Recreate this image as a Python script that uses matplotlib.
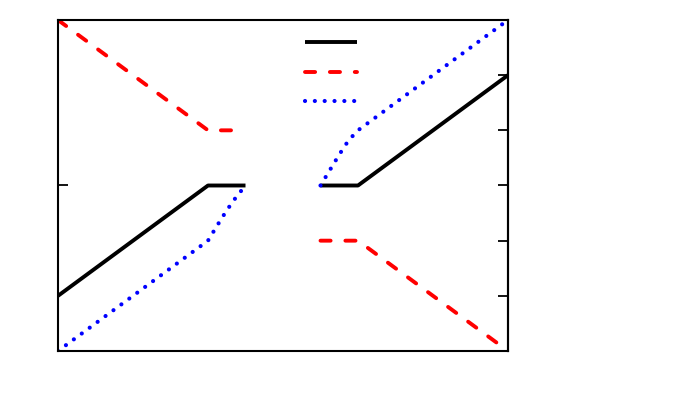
import matplotlib
matplotlib.use("Agg")
import matplotlib.pyplot as plt

# dados
x_esq = [-6, -2, -1]
x_dir = [1, 2, 6]
preto_esq = [-2, 0, 0]
preto_dir = [0, 0, 2]
verm_esq = [3, 1, 1]
verm_dir = [-1, -1, -3]
x_azul_esq = [-6, -2, -1.75, -1.5, -1.25, -1]
azul_esq = [-3, -1, -0.72, -0.45, -0.21, 0]
x_azul_dir = [1, 1.25, 1.5, 1.75, 2, 6]
azul_dir = [0, 0.28, 0.56, 0.82, 1, 3]
ticks_esq = [0]
ticks_dir = [-2, -1, 0, 1, 2]

fig = plt.figure(figsize=(6.92, 4.15), dpi=100)
ax = fig.add_axes([58/692, 1-351/415, 450/692, 331/415])

estilo_preto = dict(color="black", lw=2.8, solid_capstyle="butt")
estilo_verm = dict(color="red", lw=2.8, dashes=(2.6, 3.8), dash_capstyle="round")
estilo_azul = dict(color="blue", lw=3.0, dashes=(0.01, 2.35), dash_capstyle="round")

l1, = ax.plot(x_esq, preto_esq, **estilo_preto)
ax.plot(x_dir, preto_dir, **estilo_preto)
l2, = ax.plot(x_esq, verm_esq, **estilo_verm)
ax.plot(x_dir, verm_dir, **estilo_verm)
l3, = ax.plot(x_azul_esq, azul_esq, **estilo_azul)
ax.plot(x_azul_dir, azul_dir, **estilo_azul)

ax.set_xlim(-6, 6)
ax.set_ylim(-3, 3)
ax.set_xticks([])
ax.set_yticks(ticks_esq)
ax.set_yticklabels([])
ax.tick_params(axis="y", direction="in", length=7, width=1.3, left=True, right=False)
for s in ax.spines.values():
    s.set_linewidth(1.5)

ax2 = ax.secondary_yaxis("right")
ax2.set_yticks(ticks_dir)
ax2.set_yticklabels([])
ax2.tick_params(direction="in", length=7, width=1.3)
ax2.spines["right"].set_linewidth(1.5)

ax.legend([l1, l2, l3], [" ", " ", " "], loc="upper left",
          bbox_to_anchor=(0.549, 0.957), frameon=False, fontsize=12,
          handlelength=3.12, handletextpad=0, borderpad=0,
          borderaxespad=0, labelspacing=0.69)

plt.savefig("out.png", dpi=100)
plt.close()
